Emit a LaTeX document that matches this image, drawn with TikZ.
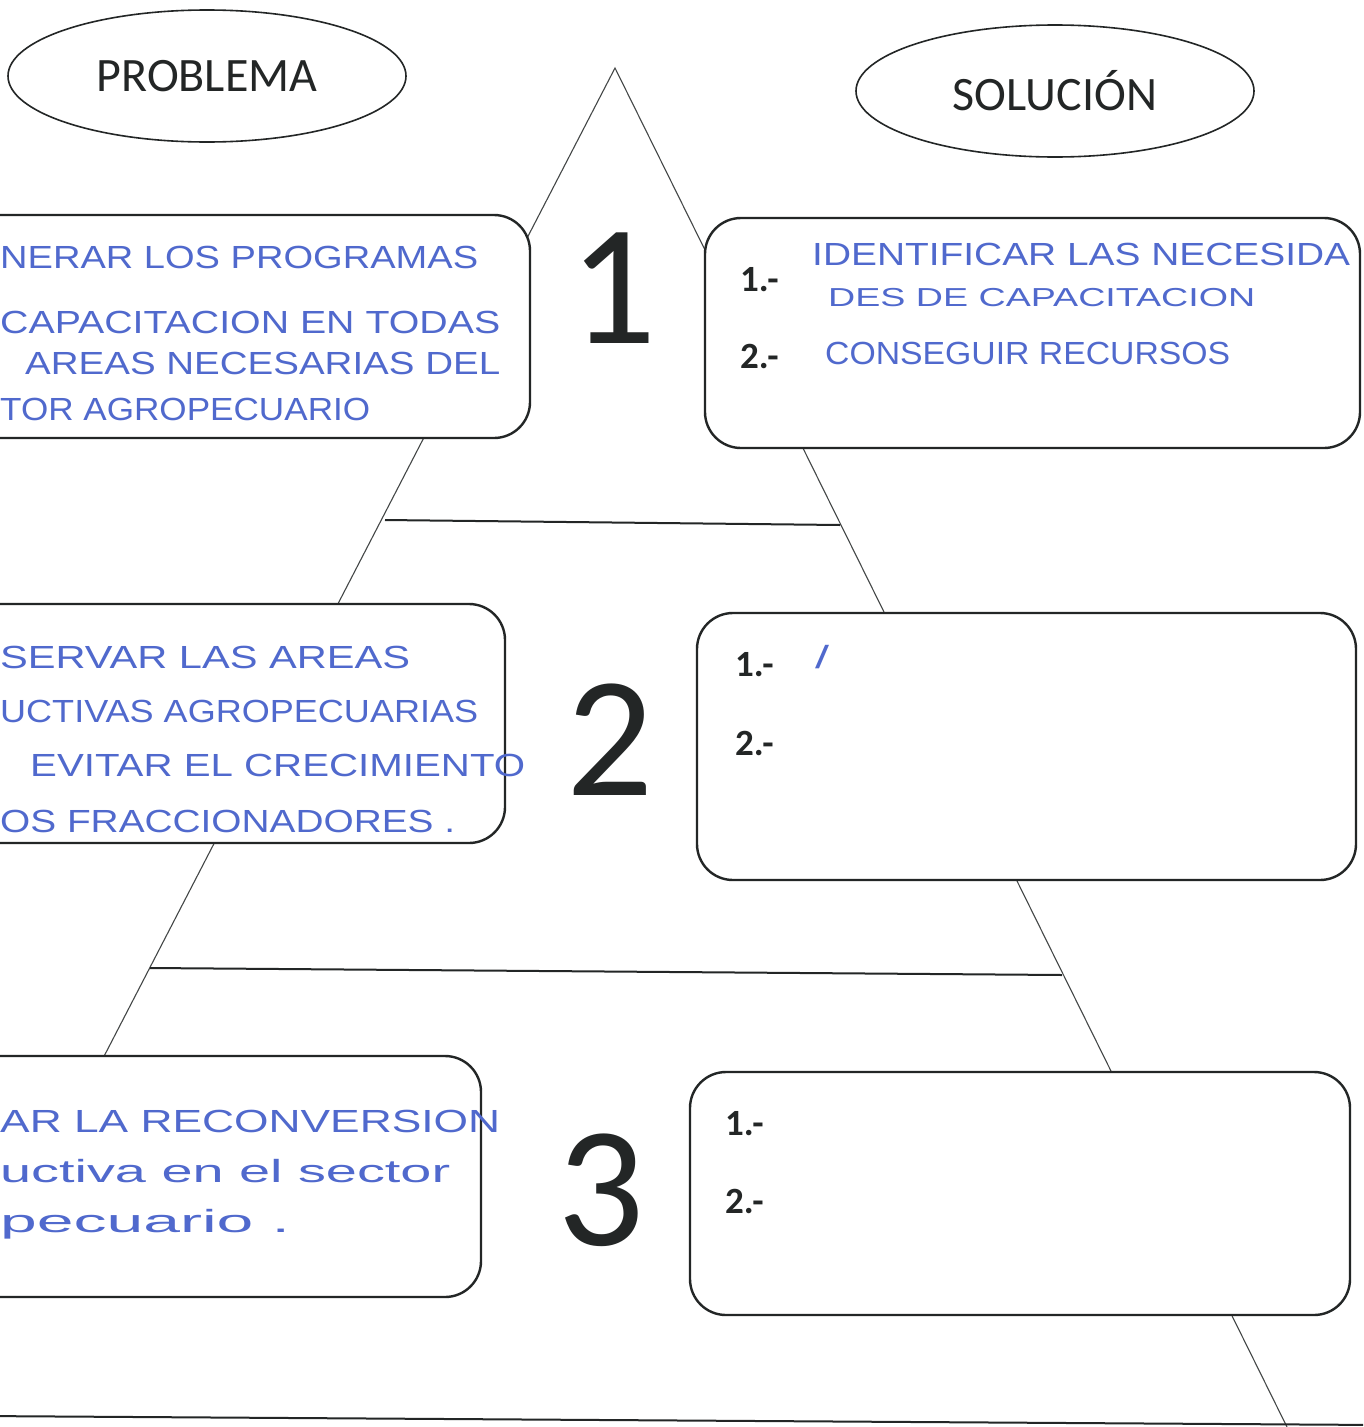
\documentclass[tikz,border=0pt]{standalone}
\usepackage{fontspec}
\usepackage{graphicx}
\setmainfont{Carlito}
\newfontfamily\hwfont{Liberation Sans}
\usetikzlibrary{shapes.geometric}
\definecolor{ink}{RGB}{35,38,38}
\definecolor{pen}{RGB}{80,105,205}
\newcommand\hwline[2]{\resizebox{#1pt}{\height}{\hwfont\fontsize{32}{32}\selectfont #2}}
\newcommand\hwsmall[2]{\resizebox{#1pt}{\height}{\hwfont\fontsize{26}{26}\selectfont #2}}
\begin{document}
\begin{tikzpicture}[x=1pt,y=-1pt,
  box/.style={draw=ink, line width=2.4pt, rounded corners=36pt, fill=white},
  side/.style={draw=ink!85, line width=1.1pt},
  divider/.style={draw=ink, line width=2pt},
  oval/.style={ellipse, draw=ink, line width=1.6pt, minimum width=398pt, minimum height=132pt, inner sep=0pt, font=\fontsize{48}{48}\selectfont, text=ink},
  bignum/.style={anchor=base, inner sep=0pt, font=\fontsize{172}{172}\selectfont, text=ink},
  item/.style={anchor=base west, inner sep=0pt, font=\bfseries\fontsize{37}{37}\selectfont, text=ink},
  hw/.style={anchor=base west, inner sep=0pt, text=pen}]
\useasboundingbox (0,0) rectangle (1363,1427);
\fill[white] (0,0) rectangle (1363,1427);
\clip (0,0) rectangle (1363,1427);

% pyramid
\coordinate (apex) at (615,68);
\coordinate (bl) at (-83,1418);
\coordinate (br) at (1287,1427);
\draw[side] (bl) -- (apex) -- (br);
\coordinate (d1l) at (385,520);
\coordinate (d1r) at (840,525);
\coordinate (d2l) at (150,968);
\coordinate (d2r) at (1062,975);
\coordinate (d3l) at (-20,1416);
\coordinate (d3r) at (1380,1425);
\draw[divider] (d1l) -- (d1r);
\draw[divider] (d2l) -- (d2r);
\draw[divider] (d3l) -- (d3r);

% headers
\node[oval] (prob) at (207,76) {PROBLEMA};
\node[oval] (sol) at (1055,91) {SOLUCIÓN};

% boxes
\draw[box] (-40,215) rectangle (530,438);
\draw[box] (705,218) rectangle (1360,448);
\draw[box] (-40,604) rectangle (505,843);
\draw[box] (697,613) rectangle (1356,880);
\draw[box] (-40,1056) rectangle (481,1297);
\draw[box] (690,1072) rectangle (1350,1315);

% level numbers
\node[bignum] (n1) at (613,343) {1};
\node[bignum] (n2) at (610,795) {2};
\node[bignum] (n3) at (601,1245) {3};

% solution items
\node[item] (s1a) at (740,291) {1.-};
\node[item] (s1b) at (740,368) {2.-};
\node[item] (s2a) at (735,676) {1.-};
\node[item] (s2b) at (735,755) {2.-};
\node[item] (s3a) at (725,1135) {1.-};
\node[item] (s3b) at (725,1213) {2.-};

% handwritten: solution 1
\node[hw] (h1) at (812,265) {\hwline{538}{IDENTIFICAR LAS NECESIDA}};
\node[hw] (h2) at (828,306) {\hwsmall{427}{DES DE CAPACITACION}};
\node[hw] (h3) at (825,364) {\hwline{405}{CONSEGUIR RECURSOS}};
\node[hw] (h4) at (815,668) {\hwline{14}{/}};

% handwritten: problem 1
\node[hw] (p1a) at (0,268) {\hwline{478}{NERAR LOS PROGRAMAS}};
\node[hw] (p1b) at (0,333) {\hwline{500}{CAPACITACION EN TODAS}};
\node[hw] (p1c) at (25,374) {\hwline{475}{AREAS NECESARIAS DEL}};
\node[hw] (p1d) at (0,420) {\hwline{370}{TOR AGROPECUARIO}};

% handwritten: problem 2
\node[hw] (p2a) at (0,668) {\hwline{410}{SERVAR LAS AREAS}};
\node[hw] (p2b) at (0,722) {\hwline{478}{UCTIVAS AGROPECUARIAS}};
\node[hw] (p2c) at (30,776) {\hwline{495}{EVITAR EL CRECIMIENTO}};
\node[hw] (p2d) at (0,832) {\hwline{455}{OS FRACCIONADORES .}};

% handwritten: problem 3
\node[hw] (p3a) at (0,1132) {\hwline{500}{AR LA RECONVERSION}};
\node[hw] (p3b) at (0,1182) {\hwline{450}{uctiva en el sector}};
\node[hw] (p3c) at (0,1232) {\hwline{290}{pecuario .}};
\end{tikzpicture}
\end{document}
